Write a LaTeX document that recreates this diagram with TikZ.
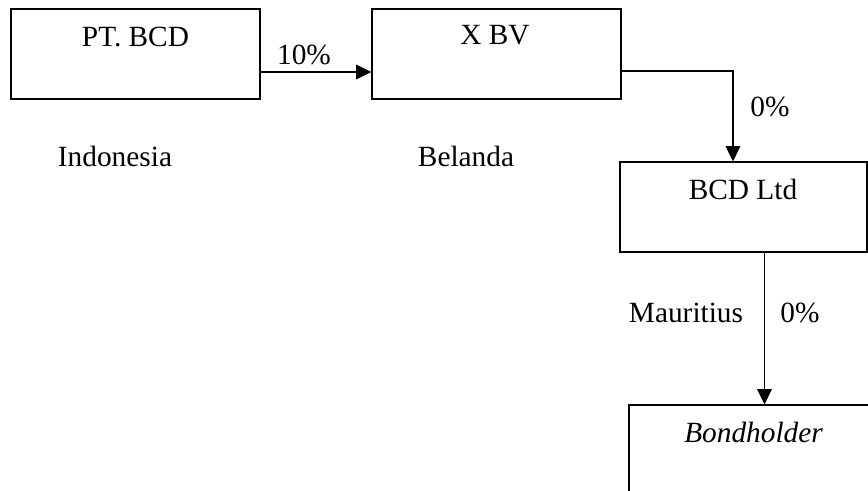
\documentclass[tikz,border=0pt]{standalone}
\usepackage{fontspec}
\setmainfont{Liberation Serif}
\usetikzlibrary{arrows.meta,calc}
\tikzset{
	entity/.style={draw, line width=0.8pt, rectangle, minimum width=186.75pt, minimum height=67.5pt, inner sep=0pt},
	txt/.style={anchor=base, inner sep=0pt, font=\fontsize{22}{26}\selectfont},
	flow/.style={line width=0.8pt, -{Triangle[length=11.5pt,width=11pt]}}
}

\begin{document}
\begin{tikzpicture}[x=0.75pt, y=-0.75pt]
			%%%%% START %%%%%
			\useasboundingbox (0, 0) rectangle (868, 491);
			\clip (0, 0) rectangle (868, 491);
			
			\node[entity] (ptbcd) at (135.5, 54) {};
			\node[entity] (xbv) at (496.5, 54) {};
			\node[entity, minimum width=185.25pt] (bcdltd) at (743.5, 207) {};
			\node[entity] (bond) at (753.5, 450) {};
			
			\node[txt] (ptbcdname) at (135.5, 47) {PT. BCD};
			\node[txt] (xbvname) at (495, 45) {X BV};
			\node[txt] (bcdltdname) at (743, 200) {BCD Ltd};
			\node[txt] (bondname) at (753.5, 443) {\itshape Bondholder};
			
			\node[txt] (indonesia) at (115, 167) {Indonesia};
			\node[txt] (belanda) at (466, 167) {Belanda};
			\node[txt] (mauritius) at (686, 323) {Mauritius};
			
			\node[txt] (rate1) at (304, 65) {10\%};
			\node[txt] (rate2) at (770, 117) {0\%};
			\node[txt] (rate3) at (800, 323) {0\%};
			
			\draw[flow] ([yshift=-13.5pt]ptbcd.east) -- ([yshift=-13.5pt]xbv.west);
			\draw[flow] ([yshift=-12.75pt]xbv.east) -| ([xshift=-7.9pt]bcdltd.north);
			\draw[flow] ([xshift=15.75pt]bcdltd.south) -- ([xshift=15.75pt]bcdltd.south |- bond.north);
			%%%%% END %%%%%
		\end{tikzpicture}
\end{document}
